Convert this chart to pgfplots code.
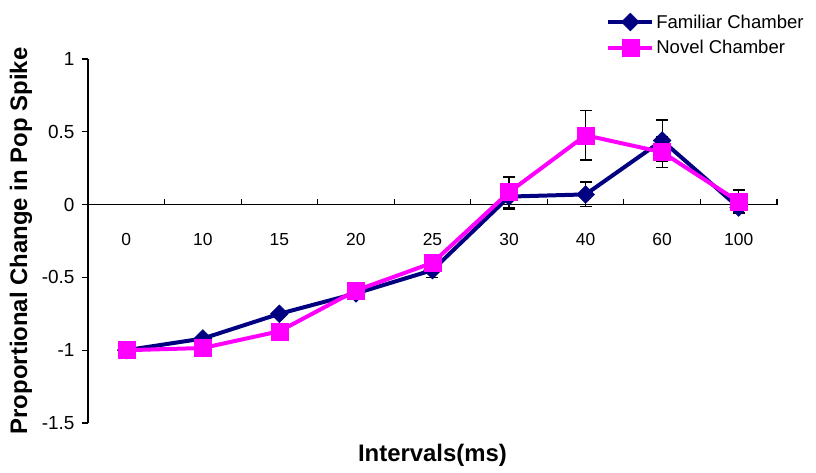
\documentclass[border=0pt]{standalone}
\usepackage{pgfplots}
\pgfplotsset{compat=1.18}
\usepackage{fontspec}
\setmainfont{Liberation Sans}
\definecolor{famblue}{RGB}{0,0,128}
\definecolor{novmag}{RGB}{255,0,255}
\begin{document}
\begin{tikzpicture}
\path[use as bounding box] (-88bp,-50bp) rectangle (728bp,423bp);
\begin{axis}[
  at={(0,0)}, anchor=south west,
  scale only axis, width=689bp, height=364bp,
  xmin=-0.5, xmax=8.5, ymin=-1.5, ymax=1,
  axis x line*=middle, axis y line*=left,
  axis line style={line width=1.2bp, black},
  xtick={0,...,8},
  xticklabels={0,10,15,20,25,30,40,60,100},
  minor xtick={0.5,1.5,...,8.5},
  major x tick style={draw=none},
  minor x tick style={line width=1.2bp, black},
  minor tick length=6bp,
  major tick length=6bp,
  xtick align=inside,
  ytick align=outside,
  ytick={-1.5,-1,-0.5,0,0.5,1},
  yticklabels={-1.5,-1,-0.5,0,0.5,1},
  y tick style={line width=1.2bp, black},
  xticklabel style={font=\fontsize{17.5}{20}\selectfont, anchor=base, yshift=-41bp},
  yticklabel style={font=\fontsize{19}{22}\selectfont, anchor=east, xshift=-4bp},
  xlabel={Intervals(ms)},
  ylabel={Proportional Change in Pop Spike},
  every axis x label/.style={at={(axis description cs:0.5,0)}, anchor=base, yshift=-38bp,
    font=\fontsize{24}{28}\selectfont\bfseries},
  every axis y label/.style={at={(axis description cs:-0.0885,0.5)}, anchor=base, rotate=90,
    font=\fontsize{24}{28}\selectfont\bfseries},
  legend style={at={(axis description cs:0.752,1.128)}, anchor=north west, draw=none, fill=none,
    font=\fontsize{18.6}{22}\selectfont, row sep=7bp, inner sep=0pt,
    nodes={inner sep=2bp}},
  legend cell align=left,
  legend image code/.code={
    \draw[mark repeat=2,mark phase=2,#1] plot coordinates {(0bp,0bp) (22bp,0bp) (44bp,0bp)};
  },
  clip=false,
]
\addplot[color=famblue, line width=4bp, mark=square*, mark size=6.3bp,
  mark options={rotate=45, fill=famblue, line width=0.5bp},
  error bars/.cd, y dir=both, y explicit,
  error bar style={black, line width=1.3bp},
  error mark options={rotate=90, mark size=6bp, black, line width=1.3bp}]
coordinates {
(0,-1.0) +- (0,0.0)
(1,-0.92) +- (0,0.0)
(2,-0.75) +- (0,0.0)
(3,-0.61) +- (0,0.0)
(4,-0.45) +- (0,0.05)
(5,0.055) +- (0,0.085)
(6,0.07) +- (0,0.085)
(7,0.44) +- (0,0.14)
(8,-0.02) +- (0,0.035)
};
\addlegendentry{Familiar Chamber}
\addplot[color=novmag, line width=4bp, mark=square*, mark size=8.5bp,
  mark options={fill=novmag, line width=0.5bp},
  error bars/.cd, y dir=both, y explicit,
  error bar style={black, line width=1.3bp},
  error mark options={rotate=90, mark size=6bp, black, line width=1.3bp}]
coordinates {
(0,-1.0) +- (0,0.0)
(1,-0.985) +- (0,0.0)
(2,-0.87) +- (0,0.0)
(3,-0.59) +- (0,0.0)
(4,-0.40) +- (0,0.0)
(5,0.085) +- (0,0.105)
(6,0.476) +- (0,0.17)
(7,0.36) +- (0,0.105)
(8,0.02) +- (0,0.08)
};
\addlegendentry{Novel Chamber}
\end{axis}
\end{tikzpicture}
\end{document}
